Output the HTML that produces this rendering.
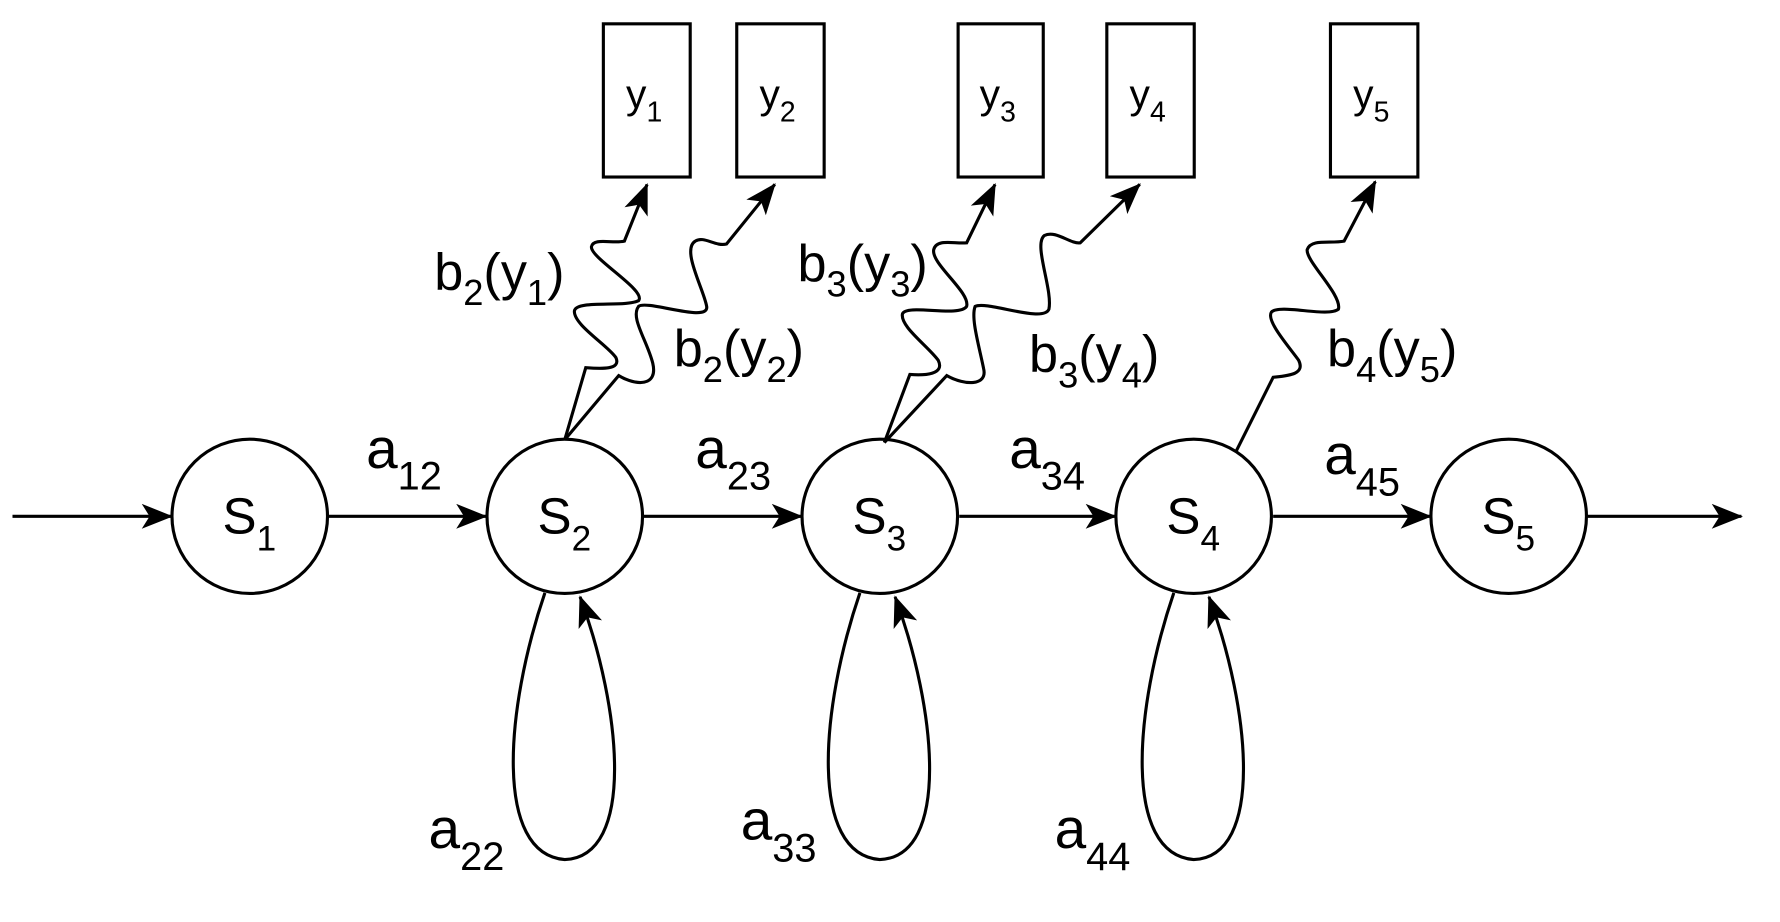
<!DOCTYPE html>
<html><head><meta charset="utf-8"><style>html,body{margin:0;padding:0;background:#fff}svg{display:block}</style></head>
<body>
<svg width="1780" height="922" viewBox="0 0 3136 1625" preserveAspectRatio="none" xmlns="http://www.w3.org/2000/svg" font-family="Liberation Sans, Arial, sans-serif">
<defs>
<marker id="ah2" viewBox="0 0 20 16" refX="19" refY="8" markerWidth="56" markerHeight="44" markerUnits="userSpaceOnUse" orient="auto">
<path d="M0,0 L20,8 L0,16 L5,8 Z" fill="#000"/>
</marker>
</defs>
<g fill="none" stroke="#000" stroke-width="5.5">
<ellipse cx="440" cy="910" rx="137" ry="136"/>
<ellipse cx="995" cy="910" rx="137" ry="136"/>
<ellipse cx="1550" cy="910" rx="137" ry="136"/>
<ellipse cx="2103" cy="910" rx="137" ry="136"/>
<ellipse cx="2658" cy="910" rx="137" ry="136"/>
<rect x="1063" y="42" width="153" height="270"/>
<rect x="1298" y="42" width="154" height="270"/>
<rect x="1688" y="42" width="150" height="270"/>
<rect x="1950" y="42" width="154" height="270"/>
<rect x="2344" y="42" width="154" height="270"/>
<line x1="22" y1="910" x2="302" y2="910" marker-end="url(#ah2)"/>
<line x1="578" y1="910" x2="856" y2="910" marker-end="url(#ah2)"/>
<line x1="1133" y1="910" x2="1412" y2="910" marker-end="url(#ah2)"/>
<line x1="1690" y1="910" x2="1965" y2="910" marker-end="url(#ah2)"/>
<line x1="2243" y1="910" x2="2520" y2="910" marker-end="url(#ah2)"/>
<line x1="2796" y1="910" x2="3068" y2="910" marker-end="url(#ah2)"/>
<path d="M960,1045 C890,1250 870,1505 995,1515 C1120,1510 1095,1250 1022,1052" marker-end="url(#ah2)"/>
<path d="M1515,1045 C1445,1250 1425,1505 1550,1515 C1675,1510 1650,1250 1577,1052" marker-end="url(#ah2)"/>
<path d="M2068,1045 C1998,1250 1978,1505 2103,1515 C2228,1510 2203,1250 2130,1052" marker-end="url(#ah2)"/>
<path d="M995,775 L1032,648 C1060,650 1095,652 1085,630 C1070,608 1010,572 1012,548 C1015,528 1100,542 1125,530 C1140,512 1040,455 1042,435 C1045,418 1080,430 1100,425 L1140,325" marker-end="url(#ah2)"/>
<path d="M995,775 L1090,662 C1120,680 1160,682 1150,640 C1140,600 1110,560 1125,540 C1140,528 1250,570 1245,540 C1240,510 1200,440 1225,425 C1240,415 1260,435 1280,430 L1365,325" marker-end="url(#ah2)"/>
<path d="M1558,780 L1603,660 C1630,662 1665,660 1653,635 C1635,610 1585,575 1590,553 C1598,535 1690,560 1703,540 C1710,515 1640,465 1645,440 C1650,420 1680,430 1703,428 L1753,325" marker-end="url(#ah2)"/>
<path d="M1558,780 L1668,662 C1700,680 1740,680 1733,650 C1725,610 1710,560 1718,540 C1740,530 1838,570 1848,545 C1855,510 1820,430 1840,415 C1860,405 1885,430 1903,428 L2008,325" marker-end="url(#ah2)"/>
<path d="M2178,795 L2243,665 C2270,662 2300,660 2288,635 C2270,610 2230,565 2240,550 C2255,535 2340,560 2358,545 C2365,520 2300,460 2303,440 C2310,420 2345,430 2368,425 L2423,320" marker-end="url(#ah2)"/>
</g>
<g fill="#000" font-size="90">
<text x="392" y="940">S<tspan font-size="62" dy="30">1</tspan></text>
<text x="947" y="940">S<tspan font-size="62" dy="30">2</tspan></text>
<text x="1502" y="940">S<tspan font-size="62" dy="30">3</tspan></text>
<text x="2055" y="940">S<tspan font-size="62" dy="30">4</tspan></text>
<text x="2610" y="940">S<tspan font-size="62" dy="30">5</tspan></text>
</g>
<g fill="#000" font-size="72">
<text x="1103" y="190">y<tspan font-size="50" dy="24">1</tspan></text>
<text x="1338" y="190">y<tspan font-size="50" dy="24">2</tspan></text>
<text x="1726" y="190">y<tspan font-size="50" dy="24">3</tspan></text>
<text x="1990" y="190">y<tspan font-size="50" dy="24">4</tspan></text>
<text x="2384" y="190">y<tspan font-size="50" dy="24">5</tspan></text>
</g>
<g fill="#000" font-size="100">
<text x="645" y="825">a<tspan font-size="70" dy="38">12</tspan></text>
<text x="1225" y="825">a<tspan font-size="70" dy="38">23</tspan></text>
<text x="1778" y="825">a<tspan font-size="70" dy="38">34</tspan></text>
<text x="2333" y="835">a<tspan font-size="70" dy="38">45</tspan></text>
<text x="755" y="1495">a<tspan font-size="70" dy="38">22</tspan></text>
<text x="1305" y="1480">a<tspan font-size="70" dy="38">33</tspan></text>
<text x="1858" y="1495">a<tspan font-size="70" dy="38">44</tspan></text>
</g>
<g fill="#000" font-size="92">
<text x="765" y="510">b<tspan font-size="64" dy="28">2</tspan><tspan dy="-28">(y</tspan><tspan font-size="64" dy="28">1</tspan><tspan dy="-28">)</tspan></text>
<text x="1187" y="645">b<tspan font-size="64" dy="28">2</tspan><tspan dy="-28">(y</tspan><tspan font-size="64" dy="28">2</tspan><tspan dy="-28">)</tspan></text>
<text x="1405" y="495">b<tspan font-size="64" dy="28">3</tspan><tspan dy="-28">(y</tspan><tspan font-size="64" dy="28">3</tspan><tspan dy="-28">)</tspan></text>
<text x="1813" y="655">b<tspan font-size="64" dy="28">3</tspan><tspan dy="-28">(y</tspan><tspan font-size="64" dy="28">4</tspan><tspan dy="-28">)</tspan></text>
<text x="2338" y="645">b<tspan font-size="64" dy="28">4</tspan><tspan dy="-28">(y</tspan><tspan font-size="64" dy="28">5</tspan><tspan dy="-28">)</tspan></text>
</g>
</svg>
</body></html>
